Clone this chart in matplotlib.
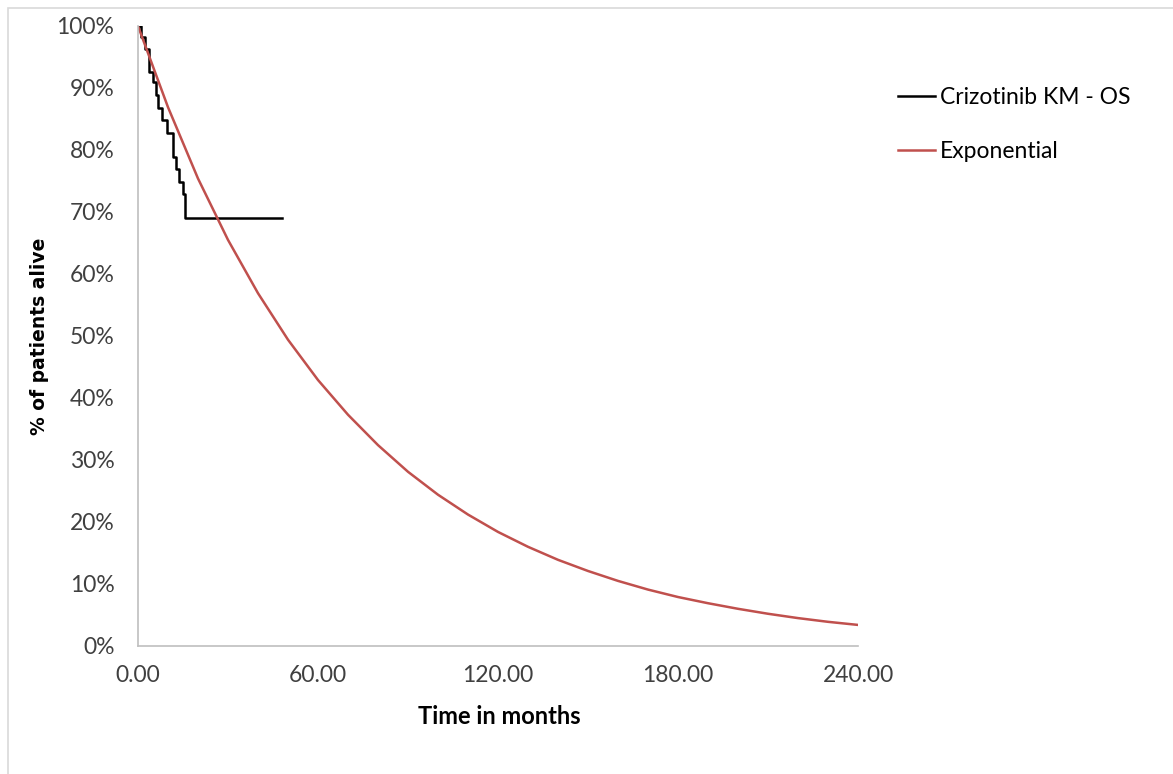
import numpy as np
import matplotlib
matplotlib.use('Agg')
import matplotlib.pyplot as plt
from matplotlib.patches import Rectangle
from matplotlib.ticker import FuncFormatter

plt.rcParams['font.family'] = ['Lato', 'DejaVu Sans']

#kaplan-meier steps (months, % alive)
km_months = [0, 1.0, 2.3, 3.7, 4.9, 5.9, 6.8, 7.9, 9.8, 11.8, 12.7, 13.8, 14.9, 15.7, 48.0]
km_surv = [100, 98.3, 96.3, 92.6, 91.0, 88.9, 86.7, 84.8, 82.8, 78.9, 76.9, 74.9, 72.9, 69.0, 69.0]

#exponential fit read every 10 months
exp_months = [0, 10, 20, 30, 40, 50, 60, 70, 80, 90, 100, 110, 120,
              130, 140, 150, 160, 170, 180, 190, 200, 210, 220, 230, 240]
exp_surv = [100, 86.9, 75.4, 65.5, 56.9, 49.4, 42.9, 37.3, 32.4, 28.1, 24.4, 21.2, 18.4,
            16.0, 13.9, 12.1, 10.5, 9.1, 7.9, 6.9, 6.0, 5.2, 4.5, 3.9, 3.4]

x_ticks = [0, 60, 120, 180, 240]
y_ticks = list(range(0, 101, 10))

W, H = 1173, 774
fig = plt.figure(figsize=(W / 100, H / 100), dpi=100)

#light grey chart border
fig.patches.append(Rectangle((8 / W, -0.1), 1.2, 1.1 - 8 / H, transform=fig.transFigure,
                             fill=False, edgecolor='#D9D9D9', linewidth=1.2))

ax = fig.add_axes([138 / W, 1 - 646 / H, 720 / W, 620 / H])

ax.step(km_months, np.array(km_surv) / 100, where='post', color='black', linewidth=1.8,
        label='Crizotinib KM - OS')
ax.plot(exp_months, np.array(exp_surv) / 100, color='#C0504D', linewidth=1.8,
        label='Exponential')

ax.set_xlim(0, 240)
ax.set_ylim(0, 1)
ax.set_xticks(x_ticks)
ax.set_yticks(np.array(y_ticks) / 100)
ax.xaxis.set_major_formatter(FuncFormatter(lambda v, p: '%.2f' % v))
ax.yaxis.set_major_formatter(FuncFormatter(lambda v, p: '%d%%' % round(v * 100)))
ax.tick_params(axis='both', length=0, labelsize=16.5, colors='#404040')
ax.tick_params(axis='x', pad=14)
ax.tick_params(axis='y', pad=17)

for s in ['top', 'right']:
    ax.spines[s].set_visible(False)
for s in ['left', 'bottom']:
    ax.spines[s].set_color('#BFBFBF')
    ax.spines[s].set_linewidth(1.2)

fig.text(499 / W, 1 - 716 / H, 'Time in months', ha='center', va='center',
         fontsize=17, fontweight='bold', color='black')
fig.text(40 / W, 1 - 336 / H, '% of patients alive', ha='center', va='center',
         rotation=90, fontsize=13.5, fontweight='bold', color='black',
         family='DejaVu Sans')

leg = ax.legend(loc='upper left', bbox_to_anchor=(898 / W, 1 - 87 / H),
                bbox_transform=fig.transFigure, frameon=False, fontsize=16.5,
                handlelength=1.6, handletextpad=0.22, labelspacing=1.46,
                borderpad=0, borderaxespad=0)

plt.savefig('out.png', dpi=100)
